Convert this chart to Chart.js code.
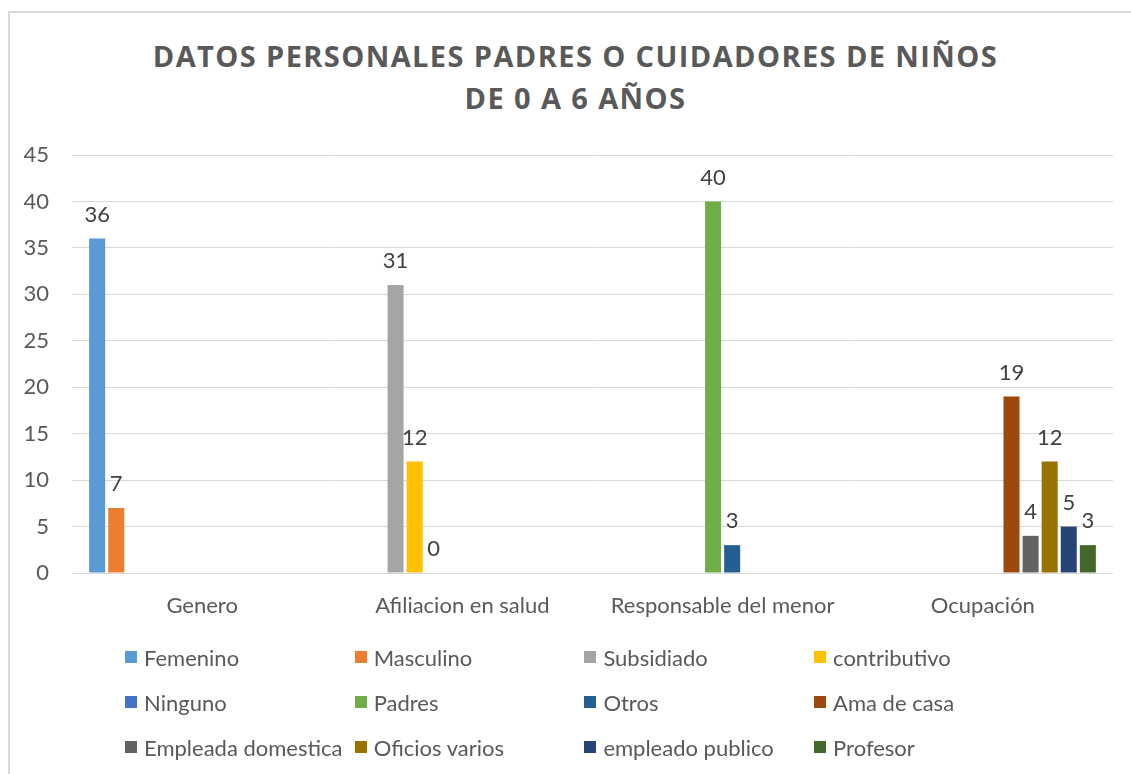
<!DOCTYPE html>
<html>
<head>
<meta charset="utf-8">
<script src="https://cdn.jsdelivr.net/npm/chart.js@4.4.0/dist/chart.umd.min.js"></script>
<style>
  html, body { margin: 0; padding: 0; background: #fff; overflow: hidden; }
  body { width: 1131px; height: 774px; position: relative; font-family: 'Lato', sans-serif; }
  #frame { position: absolute; left: 8px; top: 11px; width: 1200px; height: 900px;
    border-left: 2px solid #d9d9d9; border-top: 2px solid #d9d9d9; box-sizing: border-box; }
  #title { position: absolute; left: 0; top: 35px; width: 1151px; text-align: center;
    font-family: 'Open Sans', sans-serif; font-weight: bold; font-size: 29px; letter-spacing: 1.4px;
    line-height: 42px; color: #595959; }
  #wrap { position: absolute; left: 0; top: 0; width: 1131px; height: 640px; }
  #legend { position: absolute; left: 0; top: 0; width: 1131px; height: 774px; pointer-events: none; }
  .item { position: absolute; height: 24px; display: flex; align-items: center;
    font-size: 22px; color: #595959; white-space: nowrap; }
  .box { width: 12px; height: 12px; margin-right: 7px; flex: none; }
</style>
</head>
<body>
<div id="frame"></div>
<div id="title">DATOS PERSONALES PADRES O CUIDADORES DE NIÑOS<br>DE 0 A 6 AÑOS</div>
<div id="wrap"><canvas id="chart"></canvas></div>
<div id="legend"></div>
<script>
// categories on the x axis
var categories = ['Genero', 'Afiliacion en salud', 'Responsable del menor', 'Ocupación'];

// one value per category, null where the series has no bar
var femenino          = [36, null, null, null];
var masculino         = [7, null, null, null];
var subsidiado        = [null, 31, null, null];
var contributivo      = [null, 12, null, null];
var ninguno           = [null, 0, null, null];
var padres            = [null, null, 40, null];
var otros             = [null, null, 3, null];
var amaDeCasa         = [null, null, null, 19];
var empleadaDomestica = [null, null, null, 4];
var oficiosVarios     = [null, null, null, 12];
var empleadoPublico   = [null, null, null, 5];
var profesor          = [null, null, null, 3];

var seriesNames = ['Femenino', 'Masculino', 'Subsidiado', 'contributivo', 'Ninguno', 'Padres',
  'Otros', 'Ama de casa', 'Empleada domestica', 'Oficios varios', 'empleado publico', 'Profesor'];
var seriesValues = [femenino, masculino, subsidiado, contributivo, ninguno, padres,
  otros, amaDeCasa, empleadaDomestica, oficiosVarios, empleadoPublico, profesor];
var seriesColors = ['#5B9BD5', '#ED7D31', '#A5A5A5', '#FFC000', '#4472C4', '#70AD47',
  '#255E91', '#9E480E', '#636363', '#997300', '#264478', '#43682B'];

// y axis
var yMin = 0;
var yMax = 45;
var yStep = 5;

var textColor = '#595959';
var fontFamily = 'Lato';

var datasets = seriesNames.map(function (name, i) {
  return {
    label: name,
    data: seriesValues[i],
    backgroundColor: seriesColors[i],
    borderWidth: 0,
    categoryPercentage: 0.88,
    barPercentage: 0.84,
  };
});

// value labels above each bar (Excel style)
var valueLabels = {
  id: 'valueLabels',
  afterDatasetsDraw: function (chart) {
    var ctx = chart.ctx;
    ctx.save();
    ctx.font = '22px ' + fontFamily;
    ctx.fillStyle = '#404040';
    ctx.textAlign = 'center';
    ctx.textBaseline = 'middle';
    chart.data.datasets.forEach(function (ds, i) {
      var meta = chart.getDatasetMeta(i);
      meta.data.forEach(function (bar, j) {
        var v = ds.data[j];
        if (v === null || v === undefined) return;
        ctx.fillText(String(v), bar.x, bar.y - 24);
      });
    });
    ctx.restore();
  }
};

new Chart(document.getElementById('chart'), {
  type: 'bar',
  data: { labels: categories, datasets: datasets },
  options: {
    responsive: true,
    maintainAspectRatio: false,
    animation: false,
    layout: { padding: { top: 155, right: 18, bottom: 0, left: 0 } },
    plugins: {
      legend: { display: false },
      title: { display: false },
      tooltip: { enabled: false },
    },
    scales: {
      x: {
        grid: { display: false, drawTicks: false },
        border: { display: false },
        ticks: { color: textColor, font: { family: fontFamily, size: 22 }, padding: 20, maxRotation: 0 },
        afterFit: function (scale) { scale.height = 67; },
      },
      y: {
        min: yMin,
        max: yMax,
        grid: { color: '#d9d9d9', lineWidth: 1, drawTicks: false },
        border: { display: false },
        ticks: { stepSize: yStep, color: textColor, font: { family: fontFamily, size: 22 }, padding: 23 },
        afterFit: function (scale) { scale.width = 72; },
      },
    },
  },
  plugins: [valueLabels],
});

// legend grid, 4 columns x 3 rows
var legendEl = document.getElementById('legend');
seriesNames.forEach(function (name, i) {
  var col = i % 4;
  var row = Math.floor(i / 4);
  var item = document.createElement('div');
  item.className = 'item';
  item.style.left = (125 + col * 229.7) + 'px';
  item.style.top = (657 + row * 45 - 12) + 'px';
  var box = document.createElement('span');
  box.className = 'box';
  box.style.background = seriesColors[i];
  item.appendChild(box);
  item.appendChild(document.createTextNode(name));
  legendEl.appendChild(item);
});
</script>
</body>
</html>
